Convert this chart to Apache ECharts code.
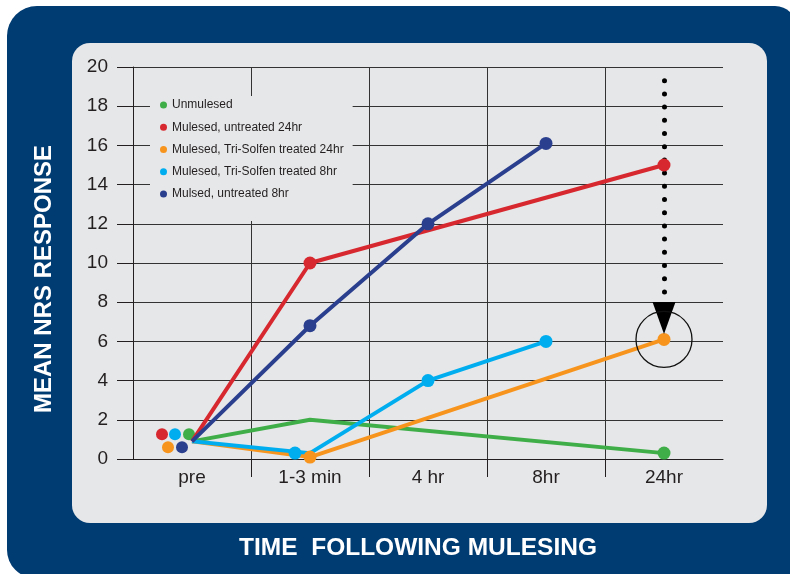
<!DOCTYPE html>
<html>
<head>
<meta charset="UTF-8">
<title>Mean NRS response following mulesing</title>
<script src="https://cdn.jsdelivr.net/npm/echarts@6/dist/echarts.min.js"></script>
<style>
  html, body { margin: 0; padding: 0; background: #fff; }
  #chart1 { width: 790px; height: 574px; }
</style>
</head>
<body>
<div id="chart1"></div>
<script>
var chart1 = echarts.init(document.getElementById('chart1'));

// x categories and y scale
var times = ['pre', '1-3 min', '4 hr', '8hr', '24hr'];
var yMin = 0, yMax = 20, yStep = 2;

// series (null = no reading, line joins across)
var seriesNames = [
  'Unmulesed',
  'Mulesed, untreated 24hr',
  'Mulesed, Tri-Solfen treated 24hr',
  'Mulesed, Tri-Solfen treated 8hr',
  'Mulsed, untreated 8hr'
];
var unmulesed   = [0.9, 2,   null, null, 0.3];
var untreated24 = [0.9, 10,  null, null, 15];
var treated24   = [0.9, 0.1, null, null, 6.1];
var treated8    = [0.9, 0.3, 4,    6,    null];
var untreated8  = [0.9, 6.8, 12,   16.1, null];

// arrow + ring pointing at the treated 24hr reading
var arrowTop = 19.3, arrowBottom = 8.5, arrowHead = 7.2, ringAt = 6.1;

var colors = ['#3fae49', '#d7282f', '#f7941d', '#00aeef', '#2b3f8f'];
var allValues = [unmulesed, untreated24, treated24, treated8, untreated8];
// the pre dots sit in a little cluster left of where the lines start
var preOffsets = [[-3, -7], [-30, -7], [-24, 6], [-17, -7], [-10, 6]];
var plain = "'Liberation Sans', Arial, sans-serif";
var ink = '#231f20';

var series = allValues.map(function (vals, i) {
  return {
    name: seriesNames[i],
    type: 'line',
    // red and navy sit above the dotted arrow
    z: (i === 1 || i === 4) ? 6 : 2,
    connectNulls: true,
    showAllSymbol: true,
    symbol: 'circle',
    symbolSize: 13,
    lineStyle: { width: 4, color: colors[i] },
    itemStyle: { color: colors[i] },
    emphasis: { disabled: true },
    data: vals.map(function (v, j) {
      var item = { value: v };
      if (j === 0) {
        item.symbolOffset = preOffsets[i];
        item.symbolSize = 12;
      }
      if (i === 0 && j === 1) item.symbol = 'none';   // green has no dot at 1-3 min
      if (i === 3 && j === 1) item.symbolOffset = [-15, 0]; // sits beside orange dot
      return item;
    })
  };
});

series[0].markLine = {
  silent: true,
  z: 1,
  symbol: 'none',
  label: { show: false },
  lineStyle: { color: '#000', width: 5, type: [0, 13.2], cap: 'round' },
  data: [[{ coord: ['24hr', arrowTop] }, { coord: ['24hr', arrowBottom] }]]
};
series[0].markPoint = {
  silent: true,
  label: { show: false },
  data: [
    { coord: ['24hr', arrowHead], symbol: 'triangle', symbolRotate: 180, symbolSize: [23, 32],
      itemStyle: { color: '#000' } },
    { coord: ['24hr', ringAt], symbol: 'circle', symbolSize: 56,
      itemStyle: { color: 'rgba(0,0,0,0)', borderColor: '#111', borderWidth: 1.3 } }
  ]
};

var option = {
  backgroundColor: '#ffffff',
  animation: false,
  grid: { left: 133, right: 67, top: 67, bottom: 115 },
  legend: {
    orient: 'vertical',
    left: 150,
    top: 96,
    padding: [1, 9, 19, 10],
    backgroundColor: '#e6e7e8',
    icon: 'circle',
    itemWidth: 7,
    itemHeight: 7,
    itemGap: 6.25,
    selectedMode: false,
    textStyle: { fontFamily: plain, fontSize: 12, color: ink, lineHeight: 16 },
    data: seriesNames
  },
  xAxis: [{
    type: 'category',
    data: times,
    boundaryGap: true,
    axisLine: { show: true, lineStyle: { color: ink, width: 1 } },
    axisTick: { show: false },
    axisLabel: { margin: 9, color: ink, fontSize: 19, fontFamily: plain },
    splitLine: { show: true, showMinLine: false, showMaxLine: false,
      lineStyle: { color: '#333', width: 1 } }
  }, {
    // only carries the tick marks below the inner category boundaries
    type: 'value',
    position: 'bottom',
    min: 0,
    max: times.length,
    interval: 1,
    axisLine: { show: false },
    axisLabel: { show: false },
    splitLine: { show: false },
    axisTick: { show: true, length: 18, customValues: [1, 2, 3, 4],
      lineStyle: { color: ink, width: 1 } }
  }],
  yAxis: {
    type: 'value',
    min: yMin,
    max: yMax,
    interval: yStep,
    axisLine: { show: true, lineStyle: { color: ink, width: 1 } },
    axisTick: { show: true, length: 16, lineStyle: { color: ink, width: 1 } },
    axisLabel: { margin: 25, color: ink, fontSize: 19, fontFamily: plain },
    splitLine: { show: true, lineStyle: { color: '#333', width: 1 } }
  },
  graphic: [
    { type: 'rect', z: -100, silent: true,
      shape: { x: 7, y: 6, width: 790, height: 572, r: [30, 22, 0, 28] }, style: { fill: '#003b71' } },
    { type: 'rect', z: -99, silent: true,
      shape: { x: 72, y: 43, width: 695, height: 480, r: 18 }, style: { fill: '#e6e7e8' } },
    { type: 'text', x: 418, y: 548, silent: true,
      style: { text: 'TIME  FOLLOWING MULESING', fill: '#fff', font: 'bold 24.5px ' + plain,
        align: 'center', verticalAlign: 'middle' } },
    { type: 'text', x: 44, y: 279, rotation: Math.PI / 2, silent: true,
      style: { text: 'MEAN NRS RESPONSE', fill: '#fff', font: 'bold 24px ' + plain,
        align: 'center', verticalAlign: 'middle' } }
  ],
  series: series
};

chart1.setOption(option);
</script>
</body>
</html>
